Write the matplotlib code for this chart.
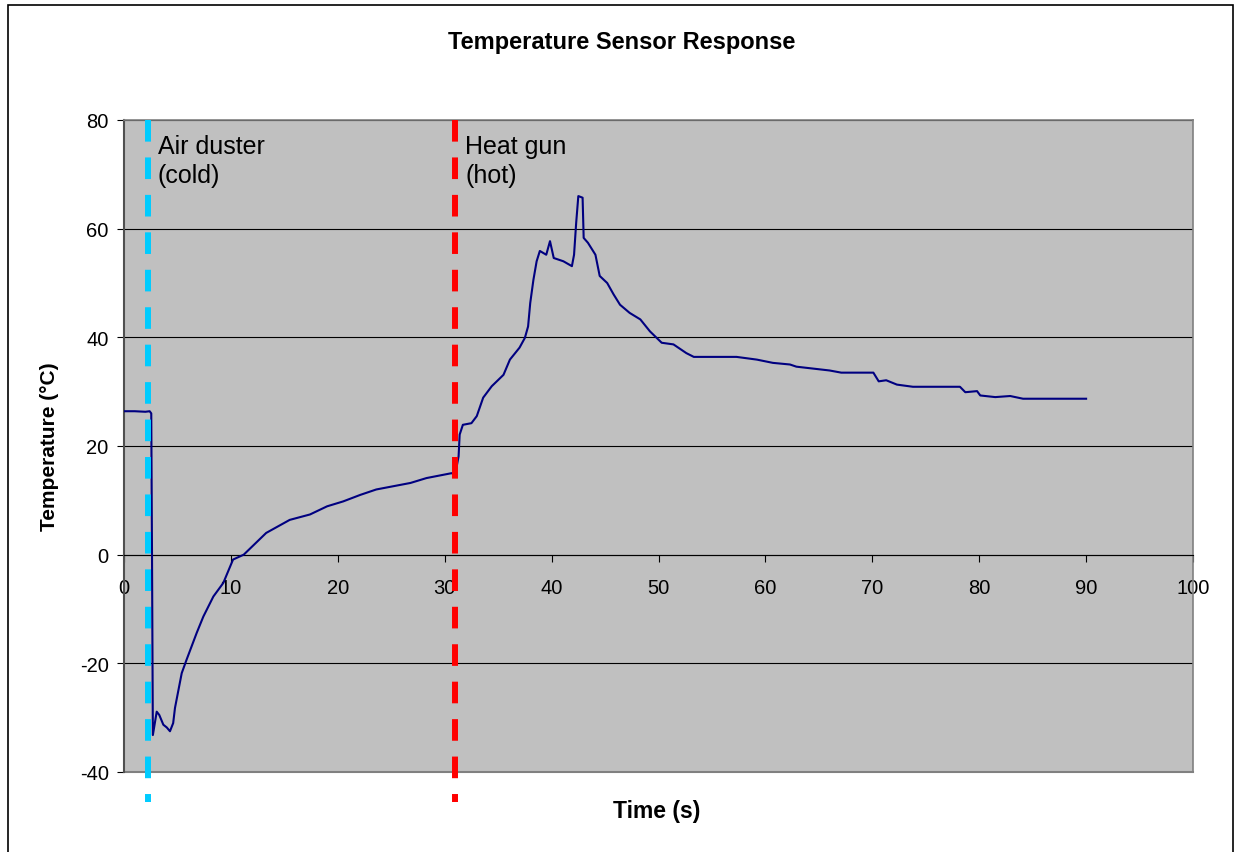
import matplotlib
matplotlib.use('Agg')
import matplotlib.pyplot as plt
from matplotlib.patches import Rectangle

plt.rcParams['font.family'] = ['Liberation Sans', 'DejaVu Sans']
plt.rcParams['axes.unicode_minus'] = False

# sensor readings
time_s = [0.0, 1.0, 2.0, 2.4, 2.55, 2.62, 2.7, 3.06, 3.3, 3.68, 4.0, 4.3, 4.6, 4.77,
          5.4, 5.86, 6.8, 7.42, 8.36, 9.29, 10.2, 11.2, 13.3, 15.5, 17.4, 19.0,
          20.5, 22.1, 23.6, 26.8, 28.3, 30.65, 30.96, 31.1, 31.3, 31.4, 31.7,
          32.5, 33.0, 33.6, 34.4, 35.5, 36.1, 37.0, 37.5, 37.8, 38.0, 38.3,
          38.6, 38.9, 39.5, 39.85, 40.2, 41.1, 41.9, 42.1, 42.3, 42.5, 42.9,
          43.0, 43.4, 44.1, 44.5, 45.2, 45.8, 46.4, 47.3, 48.3, 49.2, 50.3,
          51.4, 52.6, 53.3, 57.3, 59.2, 60.7, 62.3, 62.9, 66.0, 67.1, 70.1,
          70.6, 71.3, 72.3, 73.8, 78.2, 78.7, 79.8, 80.1, 81.5, 82.9, 84.1, 90.0]
temp_c = [26.4, 26.4, 26.3, 26.4, 26.0, 0.0, -33.2, -28.9, -29.5, -31.3, -31.8,
          -32.5, -31.0, -28.2, -21.8, -19.3, -14.4, -11.4, -7.7, -5.2, -0.9,
          0.0, 4.0, 6.4, 7.4, 8.9, 9.8, 11.0, 12.0, 13.2, 14.1, 15.0, 14.7,
          16.0, 18.1, 22.1, 23.9, 24.2, 25.5, 28.9, 31.0, 33.1, 35.9, 38.1,
          39.9, 42.0, 46.3, 50.6, 54.0, 55.9, 55.2, 57.7, 54.6, 54.0, 53.1,
          55.2, 61.1, 66.0, 65.7, 58.3, 57.4, 55.2, 51.3, 50.0, 47.9, 46.0,
          44.5, 43.3, 41.1, 39.0, 38.7, 37.1, 36.4, 36.4, 35.9, 35.3, 35.0,
          34.6, 33.9, 33.5, 33.5, 31.9, 32.1, 31.3, 30.9, 30.9, 29.9, 30.1,
          29.3, 29.0, 29.2, 28.7, 28.7]

event_times = [2.25, 31.0]
event_labels = ['Air duster\n(cold)', 'Heat gun\n(hot)']
event_colors = ['#00CCFF', '#FF0000']

W, H = 1235, 853
fig = plt.figure(figsize=(W / 100, H / 100), dpi=100)
ax = fig.add_axes([124 / W, 80 / H, 1069 / W, 652 / H])
ax.set_facecolor('#C0C0C0')

ax.set_xlim(0, 100)
ax.set_ylim(-40, 80)
ax.set_xticks(range(0, 101, 10))
ax.set_yticks(range(-40, 81, 20))

# horizontal grid lines
ax.yaxis.grid(True, color='black', linewidth=0.8)
ax.set_axisbelow(True)

for side in ['top', 'right']:
    ax.spines[side].set_color('#808080')
    ax.spines[side].set_linewidth(1.2)
ax.spines['left'].set_color('#505050')
ax.spines['left'].set_linewidth(1.5)
ax.spines['bottom'].set_position(('data', 0))
ax.spines['bottom'].set_color('black')
ax.spines['bottom'].set_linewidth(0.8)
ax.axhline(-40, color='#808080', linewidth=1.5, clip_on=False)

ax.tick_params(axis='x', direction='out', length=5, width=0.8, pad=12, labelsize=14.5)
ax.tick_params(axis='y', direction='out', length=5, width=0.8, pad=6, labelsize=14.5)

ax.plot(time_s, temp_c, color='#000080', linewidth=1.5, zorder=3)

for t, lab, col in zip(event_times, event_labels, event_colors):
    ax.plot([t, t], [80, -45.6], color=col, linewidth=4.3,
            linestyle=(0, (3.62, 2.65)), solid_capstyle='butt',
            dash_capstyle='butt', clip_on=False, zorder=4)
    ax.text(t + 0.9, 77.5, lab, fontsize=18, va='top', ha='left',
            linespacing=1.3, zorder=5)

fig.text(622 / W, 1 - 43 / H, 'Temperature Sensor Response', fontsize=17,
         fontweight='bold', ha='center', va='center')
fig.text(657 / W, 1 - 812 / H, 'Time (s)', fontsize=16.5, fontweight='bold',
         ha='center', va='center')
fig.text(50 / W, 1 - 447 / H, 'Temperature (°C)', fontsize=15,
         fontweight='bold', ha='center', va='center', rotation=90)

# outer chart frame (open at the bottom edge)
fig.patches.append(Rectangle((7.5 / W, -0.05), (1233 - 7.5) / W, 1.05 - 5.5 / H,
                             transform=fig.transFigure, fill=False,
                             edgecolor='black', linewidth=1.2))

fig.savefig('out.png', dpi=100)
